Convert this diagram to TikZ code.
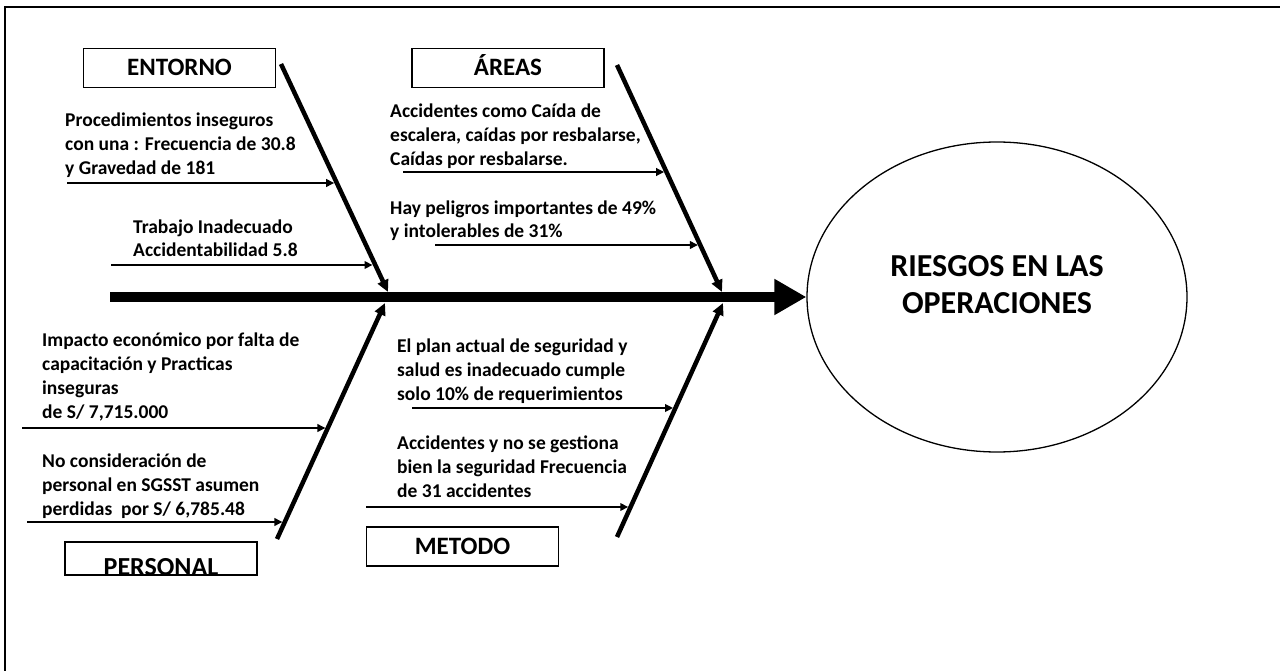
\documentclass[tikz,border=0pt]{standalone}
\usepackage{fontspec}
\setmainfont{Carlito}
\usetikzlibrary{arrows.meta,shapes.geometric,calc}
\begin{document}
\begin{tikzpicture}[x=1pt,y=-1pt,
  txt/.style={font=\fontsize{19.5}{24}\selectfont\bfseries, inner sep=0pt, anchor=base west},
  titlebox/.style={draw, line width=1.2pt, minimum width=192pt, minimum height=39pt, inner sep=0pt,
    font=\fontsize{25}{30}\selectfont\bfseries, text height=16pt, text depth=0pt},
  bone/.style={line width=4.5pt, -{Triangle[length=12pt,width=11pt]}},
  spine/.style={line width=10pt, -{Triangle[length=32pt,width=34pt]}},
  branch/.style={line width=2pt, -{Triangle[length=8pt,width=7.5pt]}, shorten >=2.3pt},
]
\useasboundingbox (0,0) rectangle (1280,671);
% frame
\draw[line width=2pt] (5,671) -- (5,7) -- (1280,7);

% title boxes
\node[titlebox] (entorno) at (179.5,68) {ENTORNO};
\node[titlebox] (areas) at (508,68) {ÁREAS};
\node[titlebox] (metodo) at (462.5,546.5) {METODO};
\node[titlebox, minimum height=33pt] (personal) at (161,558.5) {};
\begin{scope}
  \clip (personal.south west) rectangle (personal.north east);
  \node[font=\fontsize{26}{30}\selectfont\bfseries, inner sep=0pt, anchor=base] (personaltxt) at (161,575) {PERSONAL};
\end{scope}

% goal
\node[draw, ellipse, line width=1.3pt, minimum width=380pt, minimum height=310pt, inner sep=0pt] (goal) at (997,297) {};
\node[font=\fontsize{32}{37}\selectfont\bfseries, inner sep=0pt, anchor=base] (goaltxt) at (997,313)
  {\begin{tabular}[b]{@{}c@{}}RIESGOS EN LAS\\OPERACIONES\end{tabular}};

% spine
\coordinate (s0) at (110,297);
\draw[spine] (s0) -- (goal.west);

% bones
\coordinate (e1) at (281,64);  \coordinate (e2) at (388,292);
\coordinate (r1) at (617,65);  \coordinate (r2) at (722,292);
\coordinate (p1) at (277,539); \coordinate (p2) at (385,303);
\coordinate (m1) at (617,537); \coordinate (m2) at (723,303);
\draw[bone] (e1) -- (e2);
\draw[bone] (r1) -- (r2);
\draw[bone] (p1) -- (p2);
\draw[bone] (m1) -- (m2);

% branch starts and targets
\coordinate (a1) at (67,183);  \coordinate (b1) at ($(e1)!0.519!(e2)$);
\coordinate (a2) at (111,265); \coordinate (b2) at ($(e1)!0.877!(e2)$);
\coordinate (a3) at (403,172); \coordinate (b3) at ($(r1)!0.471!(r2)$);
\coordinate (a4) at (435,245); \coordinate (b4) at ($(r1)!0.793!(r2)$);
\coordinate (a5) at (22,428);  \coordinate (b5) at ($(p1)!0.470!(p2)$);
\coordinate (a6) at (27,522);  \coordinate (b6) at ($(p1)!0.072!(p2)$);
\coordinate (a7) at (412,408); \coordinate (b7) at ($(m1)!0.551!(m2)$);
\coordinate (a8) at (366,507); \coordinate (b8) at ($(m1)!0.128!(m2)$);
\foreach \i in {1,...,8} { \draw[branch] (a\i) -- (a\i -| b\i); }

% texts
\node[txt] (t1) at (65,175) {\begin{tabular}[b]{@{}l@{}}Procedimientos inseguros\\con una : Frecuencia de 30.8\\y Gravedad de 181\end{tabular}};
\node[txt] (t2) at (133,257) {\begin{tabular}[b]{@{}l@{}}Trabajo Inadecuado\\Accidentabilidad 5.8\end{tabular}};
\node[txt] (t3) at (390,166) {\begin{tabular}[b]{@{}l@{}}Accidentes como Caída de\\escalera, caídas por resbalarse,\\Caídas por resbalarse.\end{tabular}};
\node[txt] (t4) at (390,238) {\begin{tabular}[b]{@{}l@{}}Hay peligros importantes de 49\%\\y intolerables de 31\%\end{tabular}};
\node[txt] (t5) at (42,418) {\begin{tabular}[b]{@{}l@{}}Impacto económico por falta de\\capacitación y Practicas\\inseguras\\de S/ 7,715.000\end{tabular}};
\node[txt] (t6) at (42,515) {\begin{tabular}[b]{@{}l@{}}No consideración de\\personal en SGSST asumen\\perdidas\ \ por S/ 6,785.48\end{tabular}};
\node[txt] (t7) at (397,400) {\begin{tabular}[b]{@{}l@{}}El plan actual de seguridad y\\salud es inadecuado cumple\\solo 10\% de requerimientos\end{tabular}};
\node[txt] (t8) at (397,497) {\begin{tabular}[b]{@{}l@{}}Accidentes y no se gestiona\\bien la seguridad Frecuencia\\de 31 accidentes\end{tabular}};
\end{tikzpicture}
\end{document}
